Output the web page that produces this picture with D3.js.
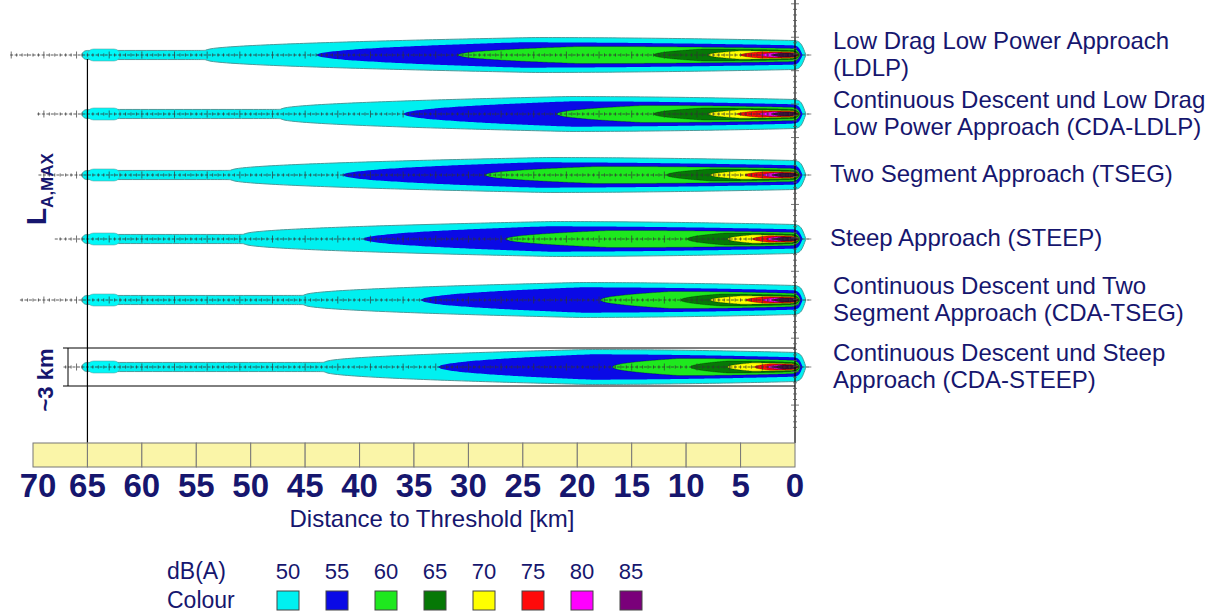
<!DOCTYPE html>
<html>
<head>
<meta charset="utf-8">
<script src="https://cdn.jsdelivr.net/npm/d3@7"></script>
<style>
  body { margin: 0; background: #fff; }
  svg { display: block; font-family: "Liberation Sans", Arial, sans-serif; }
</style>
</head>
<body>
<svg id="chart" width="1223" height="614"></svg>
<script>
// data ---------------------------------------------------------------------------
var approaches = ["LDLP", "CDA-LDLP", "TSEG", "STEEP", "CDA-TSEG", "CDA-STEEP"];
var approachLabels = [
    ["Low Drag Low Power Approach", "(LDLP)"],
    ["Continuous Descent und Low Drag", "Low Power Approach (CDA-LDLP)"],
    ["Two Segment Approach (TSEG)"],
    ["Steep Approach (STEEP)"],
    ["Continuous Descent und Two", "Segment Approach (CDA-TSEG)"],
    ["Continuous Descent und Steep", "Approach (CDA-STEEP)"]
];

// dB(A) levels and colours
var levels = [50, 55, 60, 65, 70, 75, 80, 85];
var colours = ["#00f0f0", "#0a0ae6", "#1ee81e", "#067806", "#ffff00", "#ff0a0a", "#ff00ff", "#7a007a"];

// distance (km) where each contour begins, per approach
var tubeEnd  = [54.2, 47.3, 51.9, 50.7, 45.2, 43.3];   // end of narrow 50 dB tube
var start55  = [44.0, 36.0, 41.6, 39.7, 34.4, 32.8];
var start60  = [31.0, 21.9, 28.5, 26.6, 17.9, 16.8];
var start65  = [13.0, 13.0, 11.8, 9.9, 10.5, 9.6];
var start70  = [8.0, 8.0, 7.8, 6.2, 7.8, 6.2];
var start75  = [5.0, 5.3, 4.6, 3.9, 4.5, 3.7];
var start80  = [3.2, 3.3, 3.0, 2.6, 3.0, 2.5];
var start85  = [2.0, 2.0, 1.9, 1.7, 1.9, 1.7];
var trackStart = [72.1, 69.6, 69.5, 68.0, 71.2, 67.2];

// contour peak half widths and end points (km)
var halfWidth = [1.38, 1.0, 0.68, 0.48, 0.33, 0.25, 0.17, 0.14];
var endKm     = [-1.0, -0.7, -0.5, -0.4, -0.3, -0.25, -0.2, -0.15];
var tubeHalf = 0.36;

var distanceTicks = [70, 65, 60, 55, 50, 45, 40, 35, 30, 25, 20, 15, 10, 5, 0];

// layout -------------------------------------------------------------------------
var svg = d3.select("#chart");
var navy = "#16166e";

var x = d3.scaleLinear().domain([70, 0]).range([33, 795]);
var lat = d3.scaleLinear().domain([0, 3]).range([0, 38]);
var rowY = d3.scaleOrdinal().domain(approaches).range([55, 114, 175, 239, 300, 367]);

var barTop = 443, barH = 24;
var peakAt = [0.55, 0.42, 0.36, 0.35, 0.35, 0.35, 0.35, 0.35];

// contour outline: narrow start, widening, rounded nose past threshold
function contour(s, e, w, tube, nose, p) {
    var pts = [];
    var L = s - e;
    var n = 140;
    for (var i = 0; i <= n; i++) {
        var d = s - L * i / n;
        var u = i / n;
        var rise = Math.pow(Math.min(1, u / p), 0.5);
        var fall = u > p ? 1 - 0.25 * Math.pow((u - p) / (1 - p), 1.8) : 1;
        var h = tube + (w - tube) * rise * fall;
        var k = d - e;
        if (k < nose) h *= Math.sqrt(Math.max(0, 1 - Math.pow((nose - k) / nose, 2)));
        pts.push([d, h]);
    }
    return pts;
}

function tubePoints(from, to, h) {
    var pts = [];
    var cap = 0.5;
    for (var i = 0; i <= 10; i++) {
        var d = from + cap - cap * i / 10;
        var k = cap - (from + cap - d);
        pts.push([d, h * Math.sqrt(Math.max(0, 1 - Math.pow(k / cap, 2)))]);
    }
    pts.push([to, h]);
    return pts;
}

// corridors ----------------------------------------------------------------------
var starts = [null, start55, start60, start65, start70, start75, start80, start85];

approaches.forEach(function (a, i) {
    var cy = rowY(a);
    var g = svg.append("g").attr("class", "corridor");
    var area = d3.area()
        .x(function (p) { return x(p[0]); })
        .y0(function (p) { return cy - lat(p[1]); })
        .y1(function (p) { return cy + lat(p[1]); })
        .curve(d3.curveBasis);

    levels.forEach(function (lv, j) {
        var pts;
        if (j == 0) {
            pts = tubePoints(65, tubeEnd[i], tubeHalf)
                .concat(contour(tubeEnd[i], endKm[0], halfWidth[0], tubeHalf, 0.95, peakAt[0]));
        } else {
            pts = contour(starts[j][i], endKm[j], halfWidth[j], 0, Math.min(0.8, 0.3 + halfWidth[j]), peakAt[j]);
        }
        g.append("path")
            .attr("d", area(pts))
            .attr("fill", colours[j])
            .attr("stroke", j == 0 ? "#4a9a9a" : (j == 1 ? "none" : "rgba(0,0,0,0.4)"))
            .attr("stroke-width", j == 0 ? 1 : 0.7);
    });

    // dark core at the threshold
    g.append("path")
        .attr("d", area(contour(2.2, -0.3, 0.16, 0, 0.4, 0.5)))
        .attr("fill", "#1a0a1a").attr("opacity", 0.7);

    // brighter cap on the tube
    g.append("rect")
        .attr("x", x(65)).attr("y", cy - lat(0.47))
        .attr("width", x(62) - x(65)).attr("height", 2 * lat(0.47))
        .attr("rx", 6)
        .attr("fill", "#00f8f8").attr("stroke", "#5aa8a8").attr("stroke-width", 0.6);

    // flight track with distance marks
    g.append("line")
        .attr("x1", x(trackStart[i])).attr("x2", x(-1.3))
        .attr("y1", cy).attr("y2", cy)
        .attr("stroke", "#333").attr("stroke-width", 0.8).attr("stroke-dasharray", "3,1.5");
    g.selectAll(".tk")
        .data(d3.range(0, trackStart[i], 0.5))
        .enter().append("line")
        .attr("x1", function (d) { return x(d); })
        .attr("x2", function (d) { return x(d); })
        .attr("y1", function (d, k) { return cy - (k % 6 == 0 ? 3.5 : 1.6); })
        .attr("y2", function (d, k) { return cy + (k % 6 == 0 ? 3.5 : 1.6); })
        .attr("stroke", "#333").attr("stroke-width", 0.7);
    g.append("line")
        .attr("x1", x(-1.1)).attr("x2", x(-1.5))
        .attr("y1", cy).attr("y2", cy)
        .attr("stroke", "#999").attr("stroke-width", 1.2);

    // label
    var t = svg.append("text")
        .attr("x", 832)
        .attr("y", cy - (approachLabels[i].length > 1 ? 6 : -7))
        .attr("fill", navy)
        .style("font-size", "24px");
    approachLabels[i].forEach(function (line, k) {
        t.append("tspan").attr("x", approachLabels[i].length > 1 ? 833 : 830).attr("dy", k == 0 ? 0 : 27).text(line);
    });
});

// frame lines --------------------------------------------------------------------
svg.append("line")
    .attr("x1", x(65)).attr("x2", x(65)).attr("y1", rowY("LDLP") + 4).attr("y2", barTop)
    .attr("stroke", "#000").attr("stroke-width", 1.2);
svg.append("line")
    .attr("x1", x(0)).attr("x2", x(0)).attr("y1", 0).attr("y2", barTop)
    .attr("stroke", "#000").attr("stroke-width", 1.2);
svg.selectAll(".vt")
    .data(d3.range(0.3, 34, 0.44))
    .enter().append("line")
    .attr("x1", function (d, k) { return x(0) - (k % 6 == 0 ? 4 : 2); })
    .attr("x2", function (d, k) { return x(0) + (k % 6 == 0 ? 4 : 2); })
    .attr("y1", function (d) { return lat(d); })
    .attr("y2", function (d) { return lat(d); })
    .attr("stroke", "#555").attr("stroke-width", 0.8);

// ~3 km bracket
var by = rowY("CDA-STEEP");
[-1.5, 1.5].forEach(function (o) {
    svg.append("line")
        .attr("x1", 63).attr("x2", x(0)).attr("y1", by + lat(o)).attr("y2", by + lat(o))
        .attr("stroke", "#000").attr("stroke-width", 1);
});
svg.append("line")
    .attr("x1", 68).attr("x2", 68).attr("y1", by - lat(1.5)).attr("y2", by + lat(1.5))
    .attr("stroke", "#000").attr("stroke-width", 1);
svg.append("text")
    .attr("transform", "translate(53," + (by + 13) + ") rotate(-90)")
    .attr("text-anchor", "middle")
    .attr("fill", navy).style("font-size", "22px").style("font-weight", "bold")
    .text("~3 km");

// L A,MAX
var lt = svg.append("text")
    .attr("transform", "translate(46,225) rotate(-90)")
    .attr("fill", navy).style("font-weight", "bold");
lt.append("tspan").style("font-size", "28px").text("L");
lt.append("tspan").style("font-size", "17px").attr("dy", 7).text("A,MAX");

// distance bar -------------------------------------------------------------------
svg.selectAll(".cell")
    .data(distanceTicks.slice(0, -1))
    .enter().append("rect")
    .attr("x", function (d) { return x(d); })
    .attr("y", barTop)
    .attr("width", function (d) { return x(d - 5) - x(d); })
    .attr("height", barH)
    .attr("fill", "#faf5a8").attr("stroke", "#777").attr("stroke-width", 1);

svg.selectAll(".dlab")
    .data(distanceTicks)
    .enter().append("text")
    .attr("x", function (d) { return x(d) + (d == 70 ? 5 : 0); })
    .attr("y", 497)
    .attr("text-anchor", "middle")
    .attr("fill", navy)
    .style("font-size", "33px").style("font-weight", "bold")
    .text(function (d) { return d; });

svg.append("text")
    .attr("x", 432).attr("y", 527)
    .attr("text-anchor", "middle")
    .attr("fill", navy).style("font-size", "24px")
    .text("Distance to Threshold [km]");

// legend -------------------------------------------------------------------------
var lx = d3.scalePoint().domain(levels).range([288, 631]);
svg.append("text").attr("x", 167).attr("y", 579).attr("fill", navy).style("font-size", "23px").text("dB(A)");
svg.append("text").attr("x", 167).attr("y", 608).attr("fill", navy).style("font-size", "23px").text("Colour");
svg.selectAll(".lv")
    .data(levels)
    .enter().append("text")
    .attr("x", function (d) { return lx(d); })
    .attr("y", 579)
    .attr("text-anchor", "middle")
    .attr("fill", navy).style("font-size", "22px")
    .text(function (d) { return d; });
svg.selectAll(".sw")
    .data(levels)
    .enter().append("rect")
    .attr("x", function (d) { return lx(d) - 11; })
    .attr("y", 591)
    .attr("width", 22).attr("height", 19)
    .attr("fill", function (d, i) { return colours[i]; })
    .attr("stroke", "#444").attr("stroke-width", 1);
</script>
</body>
</html>
